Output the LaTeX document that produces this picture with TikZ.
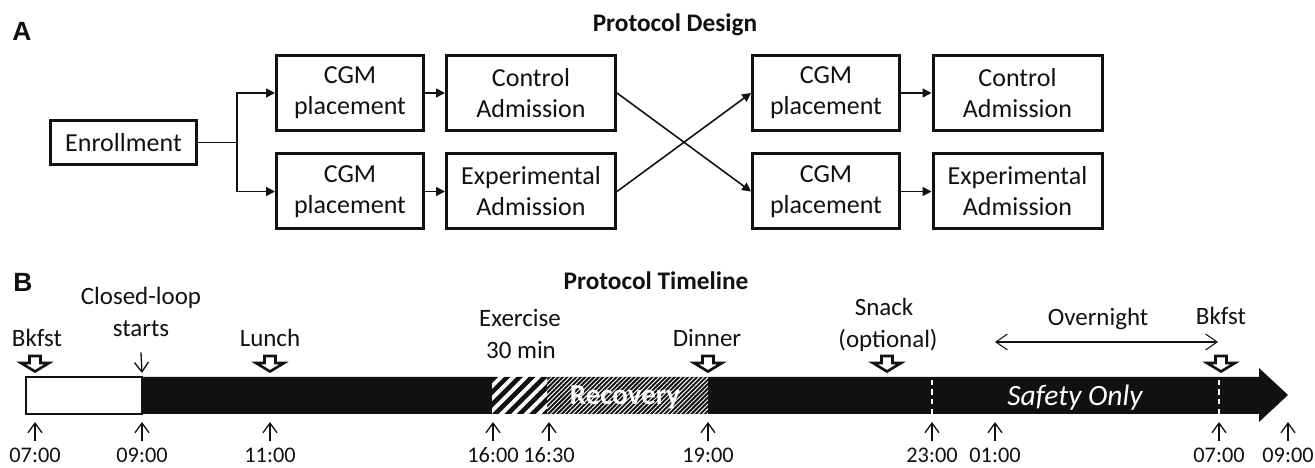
\documentclass[tikz,border=0pt]{standalone}
\usepackage{fontspec}
\setmainfont{Carlito}
\newfontfamily\panelfont{Liberation Sans}
\usetikzlibrary{arrows.meta, positioning, patterns.meta}

\begin{document}
\begin{tikzpicture}[
    every node/.style={font=\normalfont},
]

% ---------------------------------------------------------------- colours
\definecolor{ink}{HTML}{111111}      % boxes, bar, all text
\definecolor{paper}{HTML}{FFFFFF}    % white on the bar

\tikzset{
    box/.style={draw=ink, line width=1.7pt, align=center, inner sep=1pt,
                font=\fontsize{14.8}{17.6}\selectfont, text=ink},
    enrolbox/.style={box, minimum width=2.92cm, minimum height=0.88cm},
    cgmbox/.style={box, minimum width=2.94cm, minimum height=1.5cm},
    admbox/.style={box, minimum width=3.38cm, minimum height=1.5cm},
    link/.style={draw=ink, line width=0.9pt},
    flow/.style={link, -{Triangle[length=5pt, width=5pt]}},
    title/.style={font=\fontsize{14.4}{17}\selectfont\bfseries, text=ink,
                  anchor=base, inner sep=0pt},
    panlab/.style={font=\panelfont\fontsize{15}{18}\selectfont\bfseries,
                   text=ink, anchor=base west, inner sep=0pt},
    evlab/.style={font=\fontsize{14.2}{17}\selectfont, text=ink,
                  anchor=base, inner sep=0pt},
    ticklab/.style={font=\fontsize{12.7}{15}\selectfont, text=ink,
                    anchor=base, inner sep=0pt},
    tickarrow/.style={draw=ink, line width=0.75pt,
                      -{Straight Barb[length=5.5pt, width=8pt]}},
    nightarrow/.style={draw=ink, line width=0.6pt,
                       {Straight Barb[length=6.5pt, width=9pt]}-{Straight Barb[length=6.5pt, width=9pt]}},
    meal/.pic={
        \draw[ink, line width=1.5pt, fill=paper]
            (0,0) -- (0.28,0.17) -- (0.11,0.17) -- (0.11,0.31)
            -- (-0.11,0.31) -- (-0.11,0.17) -- (-0.28,0.17) -- cycle;
    },
}

\useasboundingbox (0,0) rectangle (26.30,9.36);

% ================================================================
% A: crossover design, two rows of boxes
%   rows  y = 7.50 / 5.53
% B: timeline bar between y = 1.08 and 1.82
% ================================================================

% ----------------------------------------------------------------------
% PANEL A
% ----------------------------------------------------------------------
\node[panlab] (labA) at (0.24, 8.55) {A};
\node[title] (desTitle) at (13.50, 8.72) {Protocol Design};

\node[enrolbox] (enrol) at (2.47, 6.51) {Enrollment};

\node[cgmbox] (cgmA) at (7.00, 7.50) {CGM\\placement};
\node[cgmbox] (cgmB) at (7.00, 5.53) {CGM\\placement};
\node[admbox] (ctlA) at (10.62, 7.50) {Control\\Admission};
\node[admbox] (expA) at (10.62, 5.53) {Experimental\\Admission};

\node[cgmbox] (cgmC) at (16.52, 7.50) {CGM\\placement};
\node[cgmbox] (cgmD) at (16.52, 5.53) {CGM\\placement};
\node[admbox] (ctlB) at (20.35, 7.50) {Control\\Admission};
\node[admbox] (expB) at (20.35, 5.53) {Experimental\\Admission};

\coordinate (split) at (4.74, 6.51);
\draw[link] (enrol) -- (split);
\draw[flow] (split) |- (cgmA);
\draw[flow] (split) |- (cgmB);

\draw[flow] (cgmA) -- (ctlA);
\draw[flow] (cgmB) -- (expA);
\draw[flow] (cgmC) -- (ctlB);
\draw[flow] (cgmD) -- (expB);

% the crossover
\draw[flow] (ctlA.east) -- (cgmD.west);
\draw[flow] (expA.east) -- (cgmC.west);

% ----------------------------------------------------------------------
% PANEL B
% ----------------------------------------------------------------------
\node[panlab] (labB) at (0.26, 3.52) {B};
\node[title] (tlTitle) at (13.12, 3.56) {Protocol Timeline};

% the bar
\fill[ink] (2.84,1.08) -- (25.18,1.08) -- (25.18,0.92) -- (25.76,1.46)
    -- (25.18,2.00) -- (25.18,1.82) -- (2.84,1.82) -- cycle;
\draw[ink, line width=0.8pt, fill=paper] (0.52,1.08) rectangle (2.84,1.82);

% exercise, then recovery
\fill[pattern={Lines[angle=45, distance=5pt, line width=2.2pt]},
      pattern color=paper] (9.84,1.08) rectangle (10.94,1.82);
\fill[pattern={Lines[angle=45, distance=1.8pt, line width=0.55pt]},
      pattern color=paper] (10.94,1.08) rectangle (14.16,1.82);

\foreach \x in {18.64, 24.38}
    \draw[paper, line width=1pt, dash pattern=on 3pt off 2.5pt]
        (\x,1.08) -- (\x,1.82);

\node[font=\fontsize{16.5}{19}\selectfont\bfseries, text=paper,
      anchor=base, inner sep=0pt] (recov) at (12.50, 1.26) {Recovery};
\node[font=\fontsize{16.8}{19}\selectfont\itshape, text=paper,
      anchor=base, inner sep=0pt] (safety) at (21.50, 1.24) {Safety Only};

% clock times under the bar
\foreach \x/\t [count=\k] in {0.70/07:00, 2.84/09:00, 5.40/11:00,
        9.86/16:00, 10.98/16:30, 14.16/19:00, 18.64/23:00,
        19.90/01:00, 24.38/07:00, 25.76/09:00} {
    \node[ticklab] (tick\k) at (\x, 0.10) {\t};
    \coordinate (tickTop\k) at (\x, 0.92);
    \draw[tickarrow] ([yshift=4pt]tick\k.north) -- (tickTop\k);
}

% meals
\foreach \x in {0.70, 5.40, 14.16, 17.74, 24.42}
    \pic at (\x, 1.93) {meal};

\node[evlab] (bkfstA) at (0.74, 2.42) {Bkfst};
\node[evlab] (loopA) at (2.82, 3.26) {Closed-loop};
\node[evlab] (loopB) at (2.82, 2.62) {starts};
\node[evlab] (lunch) at (5.40, 2.42) {Lunch};
\node[evlab] (exerA) at (10.40, 2.82) {Exercise};
\node[evlab] (exerB) at (10.42, 2.18) {30 min};
\node[evlab] (dinner) at (14.14, 2.42) {Dinner};
\node[evlab] (snackA) at (17.68, 3.04) {Snack};
\node[evlab] (snackB) at (17.76, 2.40) {(optional)};
\node[evlab] (night) at (21.96, 2.84) {Overnight};
\node[evlab] (bkfstB) at (24.42, 2.86) {Bkfst};

\coordinate (loopTip) at (2.84, 1.90);
\draw[tickarrow] ([yshift=-8.5pt]loopB.south) -- (loopTip);

\coordinate (nightL) at (19.90, 2.52);
\coordinate (nightR) at (24.36, 2.52);
\draw[nightarrow] (nightL) -- (nightR);

\end{tikzpicture}
\end{document}
